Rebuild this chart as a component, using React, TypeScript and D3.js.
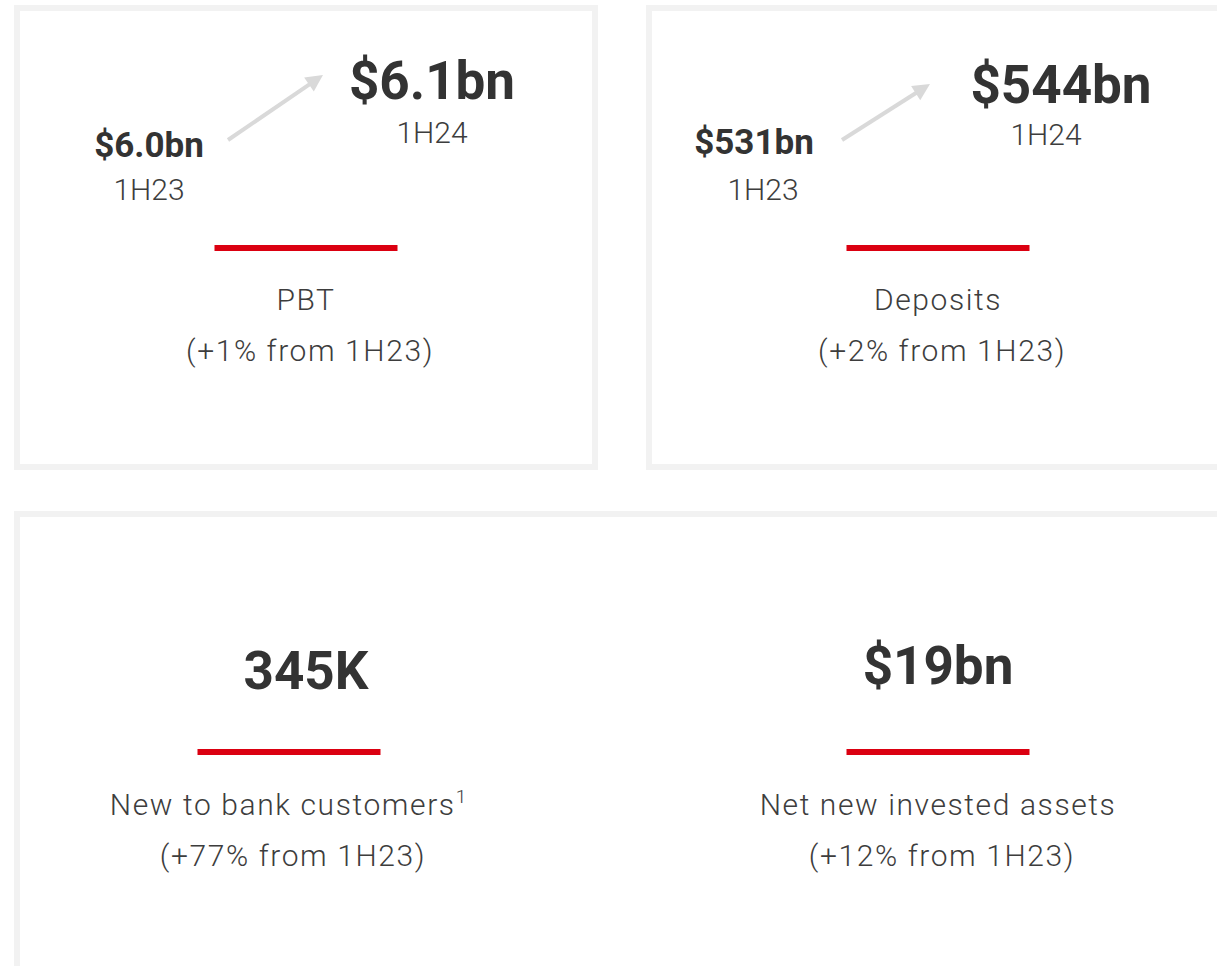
import React from "react";
import * as d3 from "d3";

// ---- data ----
const periods = ["1H23", "1H24"];
const topLabels = ["PBT", "Deposits"];
const priorValues = ["$6.0bn", "$531bn"];
const currentValues = ["$6.1bn", "$544bn"];
const topChanges = ["+1%", "+2%"];
const bottomLabels = ["New to bank customers", "Net new invested assets"];
const bottomFootnotes = ["1", ""];
const bottomValues = ["345K", "$19bn"];
const bottomChanges = ["+77%", "+12%"];

// ---- layout ----
const W = 1217;
const H = 966;
const BORDER = 6;
const BORDER_COLOR = "#f2f2f2";
const RED = "#db0011";
const DARK = "#333333";
const LIGHT = "#3d3d3d";
const ARROW = "#d9d9d9";
const FONT = "Roboto, 'Liberation Sans', Arial, sans-serif";
const LS = 1.6;

// per-card offsets relative to the card's left edge
const priorValueDX = [135, 108];
const priorPeriodDX = [135, 117];
const currentValueDX = [418, 415];
const currentPeriodDX = [418, 400];
const priorValueY = [157, 154];
const currentValueY = [99, 103];
const currentPeriodY = [143, 145];
const arrowFrom = [[214, 140], [196, 140]];
const arrowTo = [[309, 75], [284, 84]];
const bottomValueY = [689, 684];
const bottomLineDX = [-17, 0];
const bottomLabelDX = [-18, 0];
const bottomChangeDX = [-13, 4];

export default function App() {
  const x = d3
    .scaleBand<number>()
    .domain(d3.range(topLabels.length))
    .range([14, 1230])
    .paddingInner(48 / 632)
    .paddingOuter(0);
  const bw = x.bandwidth();
  const line = d3.line();

  const arrowHead = (from: number[], to: number[]) => {
    const ang = Math.atan2(to[1] - from[1], to[0] - from[0]);
    const len = 17;
    const hw = 8.5;
    const bx = to[0] - len * Math.cos(ang);
    const by = to[1] - len * Math.sin(ang);
    const px = -Math.sin(ang) * hw;
    const py = Math.cos(ang) * hw;
    return (
      line([
        [to[0], to[1]],
        [bx + px, by + py],
        [bx - px, by - py],
      ]) + "Z"
    );
  };

  return (
    <svg
      width={W}
      height={H}
      style={{ position: "absolute", left: 0, top: 0, background: "#fff" }}
      fontFamily={FONT}
    >
      {/* top cards */}
      {topLabels.map((lab, i) => {
        const left = x(i)!;
        const cx = left + bw / 2;
        const from = [left + arrowFrom[i][0], arrowFrom[i][1]];
        const to = [left + arrowTo[i][0], arrowTo[i][1]];
        const ang = Math.atan2(to[1] - from[1], to[0] - from[0]);
        const shaftEnd = [to[0] - 12 * Math.cos(ang), to[1] - 12 * Math.sin(ang)];
        return (
          <g key={lab}>
            <rect
              x={left + BORDER / 2}
              y={5 + BORDER / 2}
              width={bw - BORDER}
              height={465 - BORDER}
              fill="none"
              stroke={BORDER_COLOR}
              strokeWidth={BORDER}
            />
            <text
              x={left + priorValueDX[i]}
              y={priorValueY[i]}
              textAnchor="middle"
              fontSize={35}
              fontWeight={700}
              fill={DARK}
            >
              {priorValues[i]}
            </text>
            <text
              x={left + priorPeriodDX[i]}
              y={200}
              textAnchor="middle"
              fontSize={30}
              fontWeight={300}
              fill={LIGHT}
            >
              {periods[0]}
            </text>
            <path
              d={line([from as [number, number], shaftEnd as [number, number]])!}
              stroke={ARROW}
              strokeWidth={4}
              fill="none"
            />
            <path d={arrowHead(from, to)} fill={ARROW} />
            <text
              x={left + currentValueDX[i]}
              y={currentValueY[i]}
              textAnchor="middle"
              fontSize={53}
              fontWeight={700}
              fill={DARK}
            >
              {currentValues[i]}
            </text>
            <text
              x={left + currentPeriodDX[i]}
              y={currentPeriodY[i]}
              textAnchor="middle"
              fontSize={30}
              fontWeight={300}
              fill={LIGHT}
            >
              {periods[1]}
            </text>
            <rect x={cx - 91.5} y={245} width={183} height={6} fill={RED} />
            <text
              x={cx}
              y={310}
              textAnchor="middle"
              fontSize={30}
              fontWeight={300}
              letterSpacing={LS}
              fill={LIGHT}
            >
              {lab}
            </text>
            <text
              x={cx + 4}
              y={361}
              textAnchor="middle"
              fontSize={30}
              fontWeight={300}
              letterSpacing={LS}
              fill={LIGHT}
            >
              {`(${topChanges[i]} from ${periods[0]})`}
            </text>
          </g>
        );
      })}

      {/* bottom wide card */}
      <rect
        x={14 + BORDER / 2}
        y={511 + BORDER / 2}
        width={1300}
        height={600}
        fill="none"
        stroke={BORDER_COLOR}
        strokeWidth={BORDER}
      />
      {bottomLabels.map((lab, i) => {
        const cx = x(i)! + bw / 2;
        return (
          <g key={lab}>
            <text
              x={cx}
              y={bottomValueY[i]}
              textAnchor="middle"
              fontSize={53}
              fontWeight={700}
              fill={DARK}
            >
              {bottomValues[i]}
            </text>
            <rect x={cx + bottomLineDX[i] - 91.5} y={749} width={183} height={6} fill={RED} />
            <text
              x={cx + bottomLabelDX[i]}
              y={815}
              textAnchor="middle"
              fontSize={30}
              fontWeight={300}
              letterSpacing={LS}
              fill={LIGHT}
            >
              {lab}
              {bottomFootnotes[i] ? (
                <tspan fontSize={19} dy={-12} letterSpacing={0}>
                  {bottomFootnotes[i]}
                </tspan>
              ) : null}
            </text>
            <text
              x={cx + bottomChangeDX[i]}
              y={866}
              textAnchor="middle"
              fontSize={30}
              fontWeight={300}
              letterSpacing={LS}
              fill={LIGHT}
            >
              {`(${bottomChanges[i]} from ${periods[0]})`}
            </text>
          </g>
        );
      })}
    </svg>
  );
}
